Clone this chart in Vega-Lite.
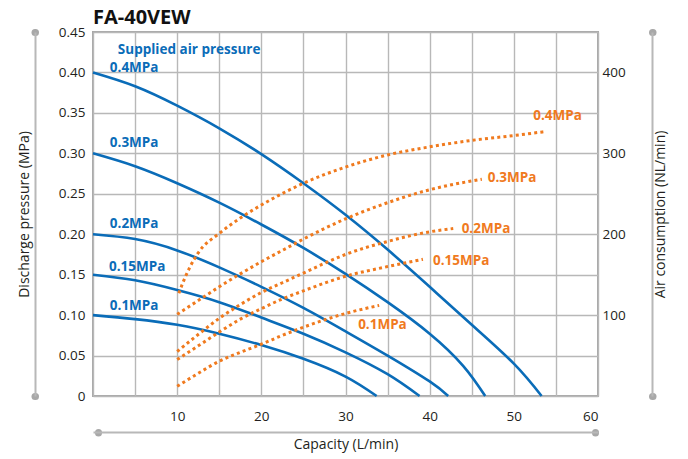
{
  "$schema": "https://vega.github.io/schema/vega-lite/v6.json",
  "width": 505,
  "height": 364,
  "autosize": {"type": "none"},
  "padding": {"left": 93, "top": 32, "right": 90, "bottom": 63},
  "background": "white",
  "title": {"text": "FA-40VEW", "anchor": "start", "frame": "group", "font": "Open Sans", "fontSize": 20, "fontWeight": "bold", "color": "#111111", "offset": -3},
  "config": {
    "view": {"stroke": "#a8a8a8", "strokeWidth": 2},
    "font": "Open Sans",
    "axis": {"labelFont": "Open Sans", "titleFont": "Open Sans", "labelColor": "#231f20", "titleColor": "#231f20", "labelFontSize": 13.5, "titleFontSize": 14, "titleFontWeight": "normal", "gridColor": "#b8b8b8", "gridWidth": 1.4, "gridOpacity": 1}
  },
  "datasets": {
    "blue": [
      {"series": "0.4", "cap": 0, "p": 0.400}, {"series": "0.4", "cap": 5, "p": 0.383}, {"series": "0.4", "cap": 10, "p": 0.359}, {"series": "0.4", "cap": 15, "p": 0.331}, {"series": "0.4", "cap": 20, "p": 0.299}, {"series": "0.4", "cap": 25, "p": 0.263}, {"series": "0.4", "cap": 30, "p": 0.224}, {"series": "0.4", "cap": 35, "p": 0.181}, {"series": "0.4", "cap": 40, "p": 0.135}, {"series": "0.4", "cap": 45, "p": 0.088}, {"series": "0.4", "cap": 50, "p": 0.040}, {"series": "0.4", "cap": 53.3, "p": 0},
      {"series": "0.3", "cap": 0, "p": 0.300}, {"series": "0.3", "cap": 5, "p": 0.284}, {"series": "0.3", "cap": 10, "p": 0.263}, {"series": "0.3", "cap": 15, "p": 0.239}, {"series": "0.3", "cap": 20, "p": 0.212}, {"series": "0.3", "cap": 25, "p": 0.183}, {"series": "0.3", "cap": 30, "p": 0.151}, {"series": "0.3", "cap": 35, "p": 0.116}, {"series": "0.3", "cap": 40, "p": 0.077}, {"series": "0.3", "cap": 44, "p": 0.037}, {"series": "0.3", "cap": 46.6, "p": 0},
      {"series": "0.2", "cap": 0, "p": 0.200}, {"series": "0.2", "cap": 5, "p": 0.194}, {"series": "0.2", "cap": 10, "p": 0.180}, {"series": "0.2", "cap": 15, "p": 0.159}, {"series": "0.2", "cap": 20, "p": 0.135}, {"series": "0.2", "cap": 25, "p": 0.109}, {"series": "0.2", "cap": 30, "p": 0.080}, {"series": "0.2", "cap": 35, "p": 0.050}, {"series": "0.2", "cap": 40, "p": 0.018}, {"series": "0.2", "cap": 42.2, "p": 0},
      {"series": "0.15", "cap": 0, "p": 0.150}, {"series": "0.15", "cap": 5, "p": 0.143}, {"series": "0.15", "cap": 10, "p": 0.131}, {"series": "0.15", "cap": 15, "p": 0.116}, {"series": "0.15", "cap": 20, "p": 0.097}, {"series": "0.15", "cap": 25, "p": 0.077}, {"series": "0.15", "cap": 30, "p": 0.054}, {"series": "0.15", "cap": 35, "p": 0.027}, {"series": "0.15", "cap": 38.8, "p": 0},
      {"series": "0.1", "cap": 0, "p": 0.100}, {"series": "0.1", "cap": 5, "p": 0.095}, {"series": "0.1", "cap": 10, "p": 0.088}, {"series": "0.1", "cap": 15, "p": 0.077}, {"series": "0.1", "cap": 20, "p": 0.063}, {"series": "0.1", "cap": 25, "p": 0.046}, {"series": "0.1", "cap": 30, "p": 0.024}, {"series": "0.1", "cap": 33.7, "p": 0}
    ],
    "orange": [
      {"series": "0.4", "cap": 10.2, "q": 127}, {"series": "0.4", "cap": 10.6, "q": 138}, {"series": "0.4", "cap": 11, "q": 148}, {"series": "0.4", "cap": 11.5, "q": 159}, {"series": "0.4", "cap": 12.5, "q": 177}, {"series": "0.4", "cap": 15, "q": 201}, {"series": "0.4", "cap": 17.5, "q": 220}, {"series": "0.4", "cap": 21, "q": 242}, {"series": "0.4", "cap": 25, "q": 263}, {"series": "0.4", "cap": 30, "q": 283}, {"series": "0.4", "cap": 35, "q": 298}, {"series": "0.4", "cap": 40, "q": 308}, {"series": "0.4", "cap": 45, "q": 316}, {"series": "0.4", "cap": 50, "q": 322}, {"series": "0.4", "cap": 53.8, "q": 327},
      {"series": "0.3", "cap": 10, "q": 101}, {"series": "0.3", "cap": 12.5, "q": 118}, {"series": "0.3", "cap": 15, "q": 135}, {"series": "0.3", "cap": 17.5, "q": 151}, {"series": "0.3", "cap": 20, "q": 166}, {"series": "0.3", "cap": 22.5, "q": 180}, {"series": "0.3", "cap": 25, "q": 194}, {"series": "0.3", "cap": 30, "q": 219}, {"series": "0.3", "cap": 35, "q": 239}, {"series": "0.3", "cap": 40, "q": 255}, {"series": "0.3", "cap": 46.2, "q": 268},
      {"series": "0.2", "cap": 10, "q": 55}, {"series": "0.2", "cap": 12.5, "q": 76}, {"series": "0.2", "cap": 15, "q": 96}, {"series": "0.2", "cap": 17.5, "q": 113}, {"series": "0.2", "cap": 20, "q": 128}, {"series": "0.2", "cap": 22.5, "q": 140}, {"series": "0.2", "cap": 25, "q": 152}, {"series": "0.2", "cap": 27.5, "q": 164}, {"series": "0.2", "cap": 30, "q": 175}, {"series": "0.2", "cap": 35, "q": 191}, {"series": "0.2", "cap": 40, "q": 203}, {"series": "0.2", "cap": 42.8, "q": 207},
      {"series": "0.15", "cap": 10, "q": 45}, {"series": "0.15", "cap": 12.5, "q": 62}, {"series": "0.15", "cap": 15, "q": 79}, {"series": "0.15", "cap": 17.5, "q": 95}, {"series": "0.15", "cap": 20, "q": 108}, {"series": "0.15", "cap": 22.5, "q": 120}, {"series": "0.15", "cap": 25, "q": 130}, {"series": "0.15", "cap": 30, "q": 148}, {"series": "0.15", "cap": 35, "q": 160}, {"series": "0.15", "cap": 39.2, "q": 169},
      {"series": "0.1", "cap": 10, "q": 12}, {"series": "0.1", "cap": 12.5, "q": 28}, {"series": "0.1", "cap": 15, "q": 43}, {"series": "0.1", "cap": 17.5, "q": 54}, {"series": "0.1", "cap": 20, "q": 64}, {"series": "0.1", "cap": 22.5, "q": 75}, {"series": "0.1", "cap": 25, "q": 85}, {"series": "0.1", "cap": 30, "q": 102}, {"series": "0.1", "cap": 34, "q": 112}
    ],
    "blueLabels": [
      {"label": "Supplied air pressure", "cap": 2.95, "p": 0.428},
      {"label": "0.4MPa", "cap": 2.0, "p": 0.4055},
      {"label": "0.3MPa", "cap": 2.0, "p": 0.313},
      {"label": "0.2MPa", "cap": 2.0, "p": 0.2125},
      {"label": "0.15MPa", "cap": 1.9, "p": 0.160},
      {"label": "0.1MPa", "cap": 2.0, "p": 0.111}
    ],
    "orangeLabels": [
      {"label": "0.4MPa", "cap": 52.3, "q": 346},
      {"label": "0.3MPa", "cap": 46.9, "q": 269},
      {"label": "0.2MPa", "cap": 43.8, "q": 206},
      {"label": "0.15MPa", "cap": 40.4, "q": 167},
      {"label": "0.1MPa", "cap": 31.5, "q": 88}
    ]
  },
  "layer": [
    {
      "data": {"name": "blue"},
      "mark": {"type": "line", "color": "#0a6cb8", "strokeWidth": 2.6, "interpolate": "natural"},
      "encoding": {
        "x": {"field": "cap", "type": "quantitative", "scale": {"domain": [0, 60], "nice": false},
          "axis": {"orient": "bottom", "values": [0, 5, 10, 15, 20, 25, 30, 35, 40, 45, 50, 55, 60], "labelExpr": "datum.value % 10 === 0 && datum.value > 0 ? datum.label : ''", "grid": true, "ticks": false, "domain": false, "labelPadding": 13, "title": "Capacity (L/min)", "titlePadding": 15}},
        "y": {"field": "p", "type": "quantitative", "scale": {"domain": [0, 0.45], "nice": false},
          "axis": {"orient": "left", "values": [0, 0.05, 0.1, 0.15, 0.2, 0.25, 0.3, 0.35, 0.4, 0.45], "labelExpr": "datum.value === 0 ? '0' : format(datum.value, '.2f')", "grid": true, "ticks": false, "domain": false, "labelPadding": 8, "title": "Discharge pressure (MPa)", "titlePadding": 27}},
        "detail": {"field": "series"}
      }
    },
    {
      "data": {"name": "blueLabels"},
      "mark": {"type": "text", "color": "#0a6cb8", "font": "Open Sans", "fontSize": 13.5, "fontWeight": "bold", "align": "left", "baseline": "middle"},
      "encoding": {
        "x": {"field": "cap", "type": "quantitative", "scale": {"domain": [0, 60], "nice": false},
          "axis": {"orient": "bottom", "offset": 36, "labels": false, "grid": false, "title": null, "values": [0.6, 59.7], "ticks": true, "tickSize": 0.5, "tickWidth": 7, "tickCap": "round", "tickColor": "#a8a8a8", "domain": true, "domainColor": "#b8b8b8", "domainWidth": 2}},
        "y": {"field": "p", "type": "quantitative", "scale": {"domain": [0, 0.45], "nice": false},
          "axis": {"orient": "left", "offset": 58, "labels": false, "grid": false, "title": null, "values": [0, 0.45], "ticks": true, "tickSize": 0.5, "tickWidth": 7, "tickCap": "round", "tickColor": "#a8a8a8", "domain": true, "domainColor": "#b8b8b8", "domainWidth": 2}},
        "text": {"field": "label"}
      }
    },
    {
      "data": {"name": "orange"},
      "mark": {"type": "line", "color": "#f07a1e", "strokeWidth": 3, "strokeDash": [3, 3.2], "strokeCap": "butt", "interpolate": "monotone"},
      "encoding": {
        "x": {"field": "cap", "type": "quantitative", "scale": {"domain": [0, 60], "nice": false}, "axis": null},
        "y": {"field": "q", "type": "quantitative", "scale": {"domain": [0, 450], "nice": false},
          "axis": {"orient": "right", "values": [100, 200, 300, 400], "grid": false, "ticks": false, "domain": false, "labelPadding": 4, "title": "Air consumption (NL/min)", "titleAngle": 270, "titleBaseline": "top", "titlePadding": 28}},
        "detail": {"field": "series"}
      }
    },
    {
      "data": {"name": "orangeLabels"},
      "mark": {"type": "text", "color": "#f07a1e", "font": "Open Sans", "fontSize": 13.5, "fontWeight": "bold", "align": "left", "baseline": "middle"},
      "encoding": {
        "x": {"field": "cap", "type": "quantitative", "scale": {"domain": [0, 60], "nice": false}, "axis": null},
        "y": {"field": "q", "type": "quantitative", "scale": {"domain": [0, 450], "nice": false},
          "axis": {"orient": "right", "offset": 54, "labels": false, "grid": false, "title": null, "values": [0, 450], "ticks": true, "tickSize": 0.5, "tickWidth": 7, "tickCap": "round", "tickColor": "#a8a8a8", "domain": true, "domainColor": "#b8b8b8", "domainWidth": 2}},
        "text": {"field": "label"}
      }
    }
  ],
  "resolve": {"scale": {"y": "independent"}, "axis": {"x": "independent", "y": "independent"}}
}
